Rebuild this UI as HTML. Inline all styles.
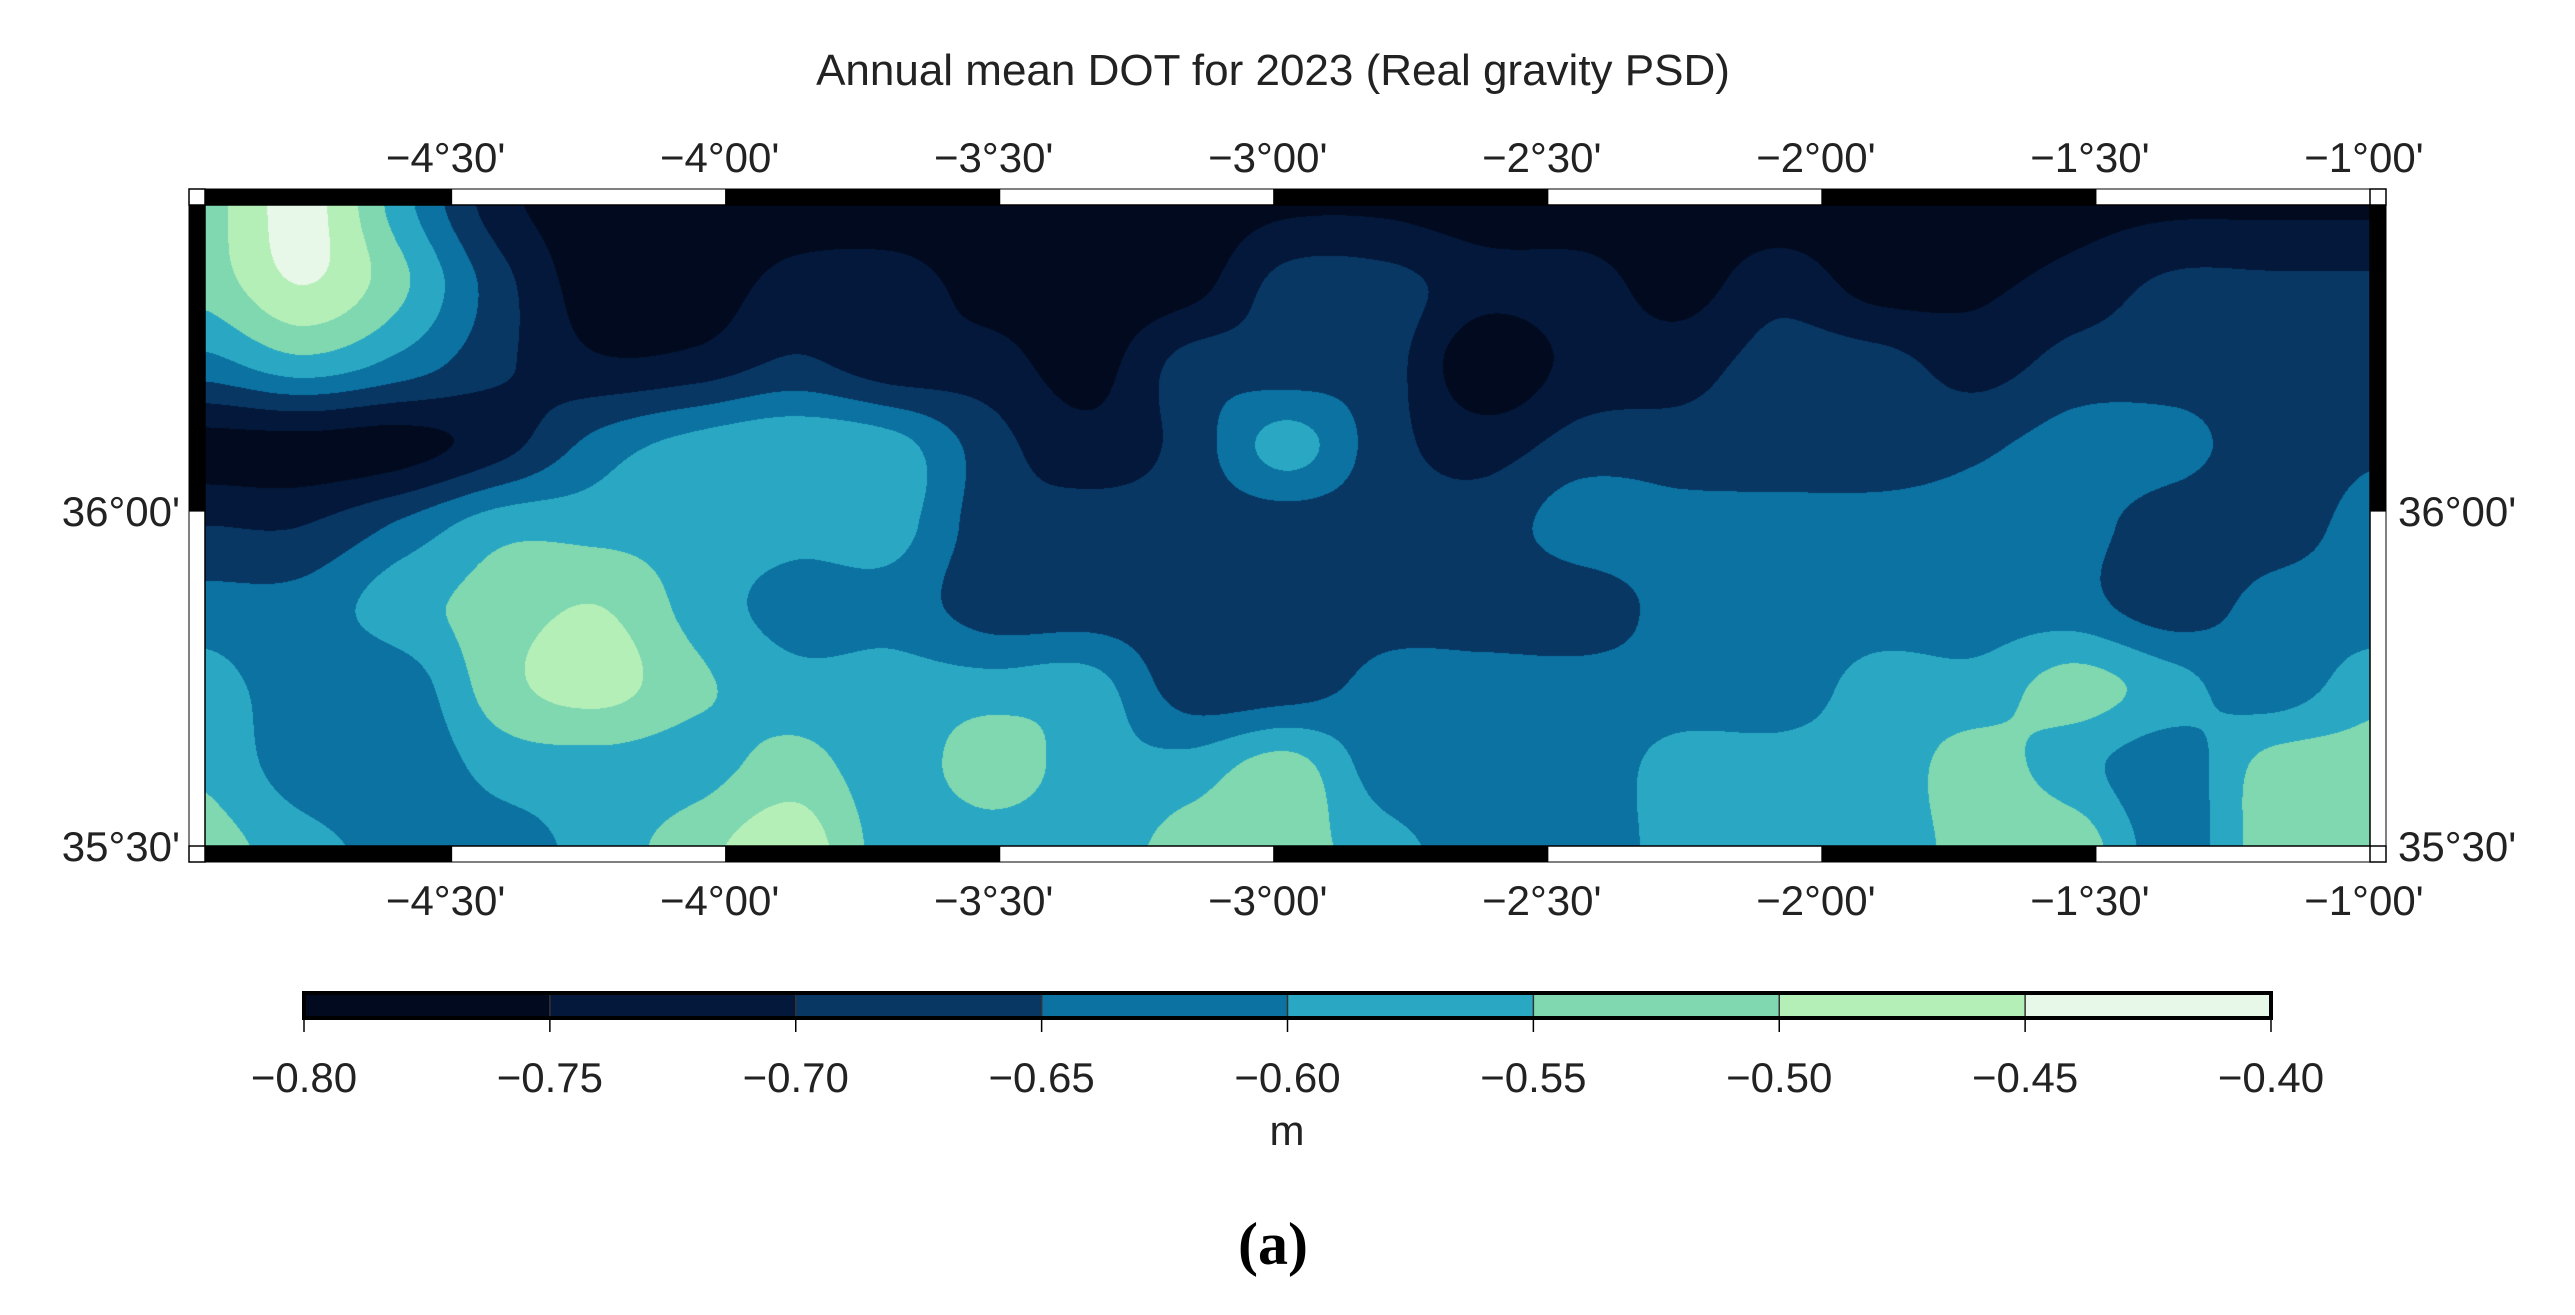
<!DOCTYPE html>
<html><head><meta charset="utf-8"><style>
html,body{margin:0;padding:0;background:#fff;}
#wrap{position:relative;width:2575px;height:1315px;overflow:hidden;}
svg{position:absolute;left:0;top:0;}
canvas{position:absolute;}
</style></head><body>
<div id="wrap">
<canvas id="map"></canvas>
<svg id="svg" width="2575" height="1315"></svg>
</div>
<script>
// ---- data ----
const lons = [-4.95,-4.770,-4.590,-4.411,-4.231,-4.052,-3.872,-3.693,-3.513,-3.334,-3.154,-2.975,-2.795,-2.616,-2.436,-2.257,-2.077,-1.898,-1.718,-1.539,-1.359,-1.180,-1.0];
const lats = [36.457,36.337,36.218,36.098,35.979,35.859,35.739,35.620,35.5];
const dotRow0 = [-0.52,-0.43,-0.58,-0.73,-0.78,-0.78,-0.78,-0.78,-0.78,-0.78,-0.78,-0.76,-0.76,-0.78,-0.78,-0.78,-0.78,-0.78,-0.78,-0.77,-0.76,-0.76,-0.76];
const dotRow1 = [-0.53,-0.45,-0.54,-0.68,-0.78,-0.78,-0.73,-0.73,-0.77,-0.78,-0.77,-0.68,-0.68,-0.73,-0.73,-0.77,-0.72,-0.77,-0.76,-0.73,-0.69,-0.69,-0.69];
const dotRow2 = [-0.62,-0.57,-0.62,-0.69,-0.74,-0.73,-0.69,-0.73,-0.73,-0.77,-0.68,-0.68,-0.68,-0.79,-0.73,-0.72,-0.68,-0.68,-0.72,-0.68,-0.68,-0.68,-0.68];
const dotRow3 = [-0.77,-0.77,-0.77,-0.72,-0.63,-0.58,-0.56,-0.58,-0.68,-0.73,-0.68,-0.58,-0.68,-0.72,-0.68,-0.68,-0.68,-0.68,-0.66,-0.63,-0.63,-0.68,-0.66];
const dotRow4 = [-0.70,-0.70,-0.64,-0.57,-0.57,-0.57,-0.58,-0.58,-0.68,-0.68,-0.68,-0.68,-0.68,-0.68,-0.62,-0.63,-0.63,-0.63,-0.63,-0.63,-0.68,-0.68,-0.63];
const dotRow5 = [-0.63,-0.63,-0.57,-0.53,-0.50,-0.57,-0.62,-0.62,-0.68,-0.68,-0.68,-0.69,-0.68,-0.68,-0.68,-0.63,-0.63,-0.63,-0.63,-0.63,-0.68,-0.63,-0.63];
const dotRow6 = [-0.58,-0.63,-0.63,-0.52,-0.48,-0.54,-0.58,-0.58,-0.58,-0.58,-0.68,-0.68,-0.63,-0.63,-0.63,-0.63,-0.63,-0.58,-0.58,-0.53,-0.58,-0.63,-0.57];
const dotRow7 = [-0.56,-0.63,-0.64,-0.58,-0.57,-0.57,-0.53,-0.58,-0.52,-0.58,-0.58,-0.53,-0.63,-0.63,-0.63,-0.58,-0.58,-0.58,-0.53,-0.58,-0.63,-0.53,-0.53];
const dotRow8 = [-0.53,-0.58,-0.62,-0.62,-0.58,-0.52,-0.47,-0.58,-0.58,-0.58,-0.53,-0.53,-0.58,-0.63,-0.63,-0.58,-0.58,-0.58,-0.53,-0.52,-0.63,-0.52,-0.52];
const dotRows = [dotRow0,dotRow1,dotRow2,dotRow3,dotRow4,dotRow5,dotRow6,dotRow7,dotRow8];
const levels = [-0.80,-0.75,-0.70,-0.65,-0.60,-0.55,-0.50,-0.45,-0.40];
const levelColors = ['#020a1f','#03183a','#083764','#0b72a2','#2aa8c3','#80d8b0','#b5efb8','#e8f8e8'];
const lonTicks = [-4.5,-4.0,-3.5,-3.0,-2.5,-2.0,-1.5,-1.0];
const lonTickLabels = ["\u22124°30'","\u22124°00'","\u22123°30'","\u22123°00'","\u22122°30'","\u22122°00'","\u22121°30'","\u22121°00'"];
const latTicks = [36.0,35.5];
const latTickLabels = ["36°00'","35°30'"];
const cbarLabels = ["\u22120.80","\u22120.75","\u22120.70","\u22120.65","\u22120.60","\u22120.55","\u22120.50","\u22120.45","\u22120.40"];

// ---- axes ----
const X0=205,X1=2370,Y0=205,Y1=846;
const LON0=-4.95,LON1=-1.0,LAT0=35.5,LAT1=36.457;
const xs = lon => X0 + (lon-LON0)/(LON1-LON0)*(X1-X0);
const ys = lat => Y1 - (lat-LAT0)/(LAT1-LAT0)*(Y1-Y0);
const CB0=304,CB1=2271;
const cbx = v => CB0 + (v-levels[0])/(levels[levels.length-1]-levels[0])*(CB1-CB0);

// ---- contour map raster ----
function cr(p0,p1,p2,p3,t){return p1+0.5*t*(p2-p0+t*(2*p0-5*p1+4*p2-p3+t*(3*(p1-p2)+p3-p0)));}
function val(lon,lat){
  const nC=lons.length,nR=lats.length;
  let fc=(lon-lons[0])/(lons[nC-1]-lons[0])*(nC-1);
  let fr=(lats[0]-lat)/(lats[0]-lats[nR-1])*(nR-1);
  const ic=Math.min(nC-2,Math.max(0,Math.floor(fc))), ir=Math.min(nR-2,Math.max(0,Math.floor(fr)));
  const tc=fc-ic,tr=fr-ir;
  const g=(r,c)=>dotRows[Math.min(nR-1,Math.max(0,r))][Math.min(nC-1,Math.max(0,c))];
  const rows=[];
  for(let k=-1;k<=2;k++) rows.push(cr(g(ir+k,ic-1),g(ir+k,ic),g(ir+k,ic+1),g(ir+k,ic+2),tc));
  return cr(rows[0],rows[1],rows[2],rows[3],tr);
}
const cv=document.getElementById('map');
cv.width=X1-X0;cv.height=Y1-Y0;cv.style.left=X0+'px';cv.style.top=Y0+'px';
const ctx=cv.getContext('2d');
const img=ctx.createImageData(cv.width,cv.height);
const rgb=levelColors.map(h=>[parseInt(h.substr(1,2),16),parseInt(h.substr(3,2),16),parseInt(h.substr(5,2),16)]);
for(let py=0;py<cv.height;py++){
  const lat=LAT1-(py+0.5)/(Y1-Y0)*(LAT1-LAT0);
  for(let px=0;px<cv.width;px++){
    const lon=LON0+(px+0.5)/(X1-X0)*(LON1-LON0);
    const v=val(lon,lat);
    let k=Math.floor((v-levels[0])/0.05);k=Math.max(0,Math.min(7,k));
    const i=(py*cv.width+px)*4,c=rgb[k];
    img.data[i]=c[0];img.data[i+1]=c[1];img.data[i+2]=c[2];img.data[i+3]=255;
  }
}
ctx.putImageData(img,0,0);

// ---- svg frame, labels, colorbar ----
const NS='http://www.w3.org/2000/svg';
const svg=document.getElementById('svg');
function mk(tag,attrs,parent){const e=document.createElementNS(NS,tag);for(const k in attrs)e.setAttribute(k,attrs[k]);(parent||svg).appendChild(e);return e;}
const FONT='"Liberation Sans", Arial, sans-serif';

let t=mk('text',{x:1273,y:85,'font-size':44,'font-family':FONT,'text-anchor':'middle',fill:'#222'});
t.textContent='Annual mean DOT for 2023 (Real gravity PSD)';



const B=16;
const bandEdges=[LON0].concat(lonTicks);
for(let i=0;i<bandEdges.length-1;i++){
  const xa=xs(bandEdges[i]),xb=xs(bandEdges[i+1]);
  const fill=(i%2===0)?'#000':'#fff';
  let r=mk('rect',{x:xa,y:Y0-B,width:xb-xa,height:B,fill:fill,stroke:'#000','stroke-width':1});
  
  
  r=mk('rect',{x:xa,y:Y1,width:xb-xa,height:B,fill:fill,stroke:'#000','stroke-width':1});
  
  
}
const latEdges=[LAT1,36.0,35.5];
for(let i=0;i<2;i++){
  const ya=ys(latEdges[i]),yb=ys(latEdges[i+1]);
  const fill=(i%2===0)?'#000':'#fff';
  let r=mk('rect',{x:X0-B,y:ya,width:B,height:yb-ya,fill:fill,stroke:'#000','stroke-width':1});
  
  
  r=mk('rect',{x:X1,y:ya,width:B,height:yb-ya,fill:fill,stroke:'#000','stroke-width':1});
  
  
}
[[X0-B,Y0-B],[X1,Y0-B],[X0-B,Y1],[X1,Y1]].forEach(p=>{
  const r=mk('rect',{x:p[0],y:p[1],width:B,height:B,fill:'#fff',stroke:'#000','stroke-width':1.5});
  
  
});
let fr=mk('rect',{x:X0,y:Y0,width:X1-X0,height:Y1-Y0,fill:'none',stroke:'#000','stroke-width':1.5});



lonTicks.forEach((lon,i)=>{
  let a=mk('text',{x:xs(lon)-6,y:172,'font-size':42,'font-family':FONT,'text-anchor':'middle',fill:'#222'});
  a.textContent=lonTickLabels[i];
  
  
  let b=mk('text',{x:xs(lon)-6,y:915,'font-size':42,'font-family':FONT,'text-anchor':'middle',fill:'#222'});
  b.textContent=lonTickLabels[i];
  
  
});
latTicks.forEach((lat,i)=>{
  let a=mk('text',{x:180,y:ys(lat)+15,'font-size':42,'font-family':FONT,'text-anchor':'end',fill:'#222'});
  a.textContent=latTickLabels[i];
  
  
  let b=mk('text',{x:2398,y:ys(lat)+15,'font-size':42,'font-family':FONT,'text-anchor':'start',fill:'#222'});
  b.textContent=latTickLabels[i];
  
  
});

// colorbar
const CY=993,CH=25;
for(let i=0;i<levelColors.length;i++){
  const r=mk('rect',{x:cbx(levels[i]),y:CY,width:cbx(levels[i+1])-cbx(levels[i]),height:CH,fill:levelColors[i]});
  
  
}
for(let i=1;i<levels.length-1;i++){
  const l=mk('line',{x1:cbx(levels[i]),x2:cbx(levels[i]),y1:CY,y2:CY+CH,stroke:'#333','stroke-width':1.5});
  
  
}
let cbo=mk('rect',{x:CB0,y:CY,width:CB1-CB0,height:CH,fill:'none',stroke:'#000','stroke-width':4});


levels.forEach((v,i)=>{
  const l=mk('line',{x1:cbx(v),x2:cbx(v),y1:CY+CH,y2:CY+CH+14,stroke:'#000','stroke-width':1.5});
  
  
  const a=mk('text',{x:cbx(v),y:1092,'font-size':42,'font-family':FONT,'text-anchor':'middle',fill:'#222'});
  a.textContent=cbarLabels[i];
  
  
});
let m=mk('text',{x:1287,y:1145,'font-size':42,'font-family':FONT,'text-anchor':'middle',fill:'#222'});
m.textContent='m';


let pa=mk('text',{x:1273,y:1264,'font-size':60,'font-weight':'bold','font-family':'"Liberation Serif", serif','text-anchor':'middle',fill:'#000'});
pa.textContent='(a)';


</script>
</body></html>
